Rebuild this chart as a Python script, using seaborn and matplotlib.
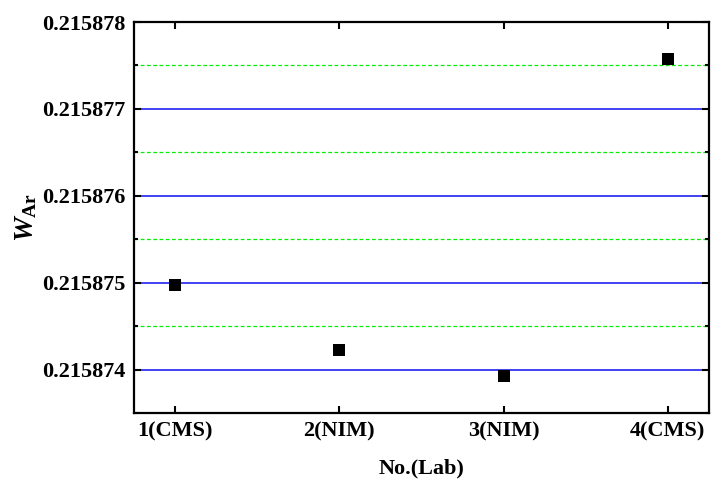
import matplotlib
matplotlib.use('Agg')
import matplotlib.pyplot as plt
import numpy as np
import seaborn as sns
import pandas as pd
from matplotlib.ticker import MultipleLocator, FuncFormatter

labs = ['1(CMS)', '2(NIM)', '3(NIM)', '4(CMS)']
lab_no = [1, 2, 3, 4]
w_ar = [0.21587497, 0.21587422, 0.21587393, 0.21587757]

df = pd.DataFrame({'no': lab_no, 'w': w_ar})

sns.set_style('ticks')
plt.rcParams['font.family'] = ['Liberation Serif', 'DejaVu Serif']
plt.rcParams['font.weight'] = 'bold'
plt.rcParams['mathtext.fontset'] = 'custom'
plt.rcParams['mathtext.rm'] = 'Liberation Serif:bold'
plt.rcParams['mathtext.it'] = 'Liberation Serif:italic:bold'
for k in ['text.color', 'axes.labelcolor', 'xtick.color', 'ytick.color', 'axes.edgecolor']:
    plt.rcParams[k] = 'black'

fig = plt.figure(figsize=(7.15, 4.79), dpi=100)
ax = fig.add_axes([0.1874, 0.1378, 0.8042, 0.8162])

sns.scatterplot(data=df, x='no', y='w', marker='s', s=85, color='black',
                edgecolor='black', linewidth=0, ax=ax, zorder=3)

ax.set_xlim(0.75, 4.25)
ax.set_ylim(0.2158735, 0.215878)
ax.set_xticks(lab_no)
ax.set_xticklabels(labs)
ax.yaxis.set_major_locator(MultipleLocator(1e-6))
ax.yaxis.set_minor_locator(MultipleLocator(5e-7))
ax.yaxis.set_major_formatter(FuncFormatter(lambda v, p: '%.6f' % v))

# horizontal grid: blue solid at major, green dashed at minor
ax.grid(True, which='major', axis='y', color='#2020f0', linestyle='-', linewidth=1.2)
ax.grid(True, which='minor', axis='y', color='#00f000', linestyle=(0, (3, 2)), linewidth=0.9)
ax.set_axisbelow(True)

ax.tick_params(which='both', direction='in', top=True, right=True, width=1.5,
               labelsize=16, pad=6)
ax.tick_params(which='major', length=5)
ax.tick_params(which='minor', length=3)
for lbl in ax.get_xticklabels() + ax.get_yticklabels():
    lbl.set_fontweight('bold')
for sp in ax.spines.values():
    sp.set_linewidth(1.6)

ax.set_xlabel('No.(Lab)', fontsize=16, fontweight='bold', labelpad=12)
ax.set_ylabel(r'$W_{\mathrm{Ar}}$', fontsize=20, labelpad=2)

fig.savefig('out.png', dpi=100)
